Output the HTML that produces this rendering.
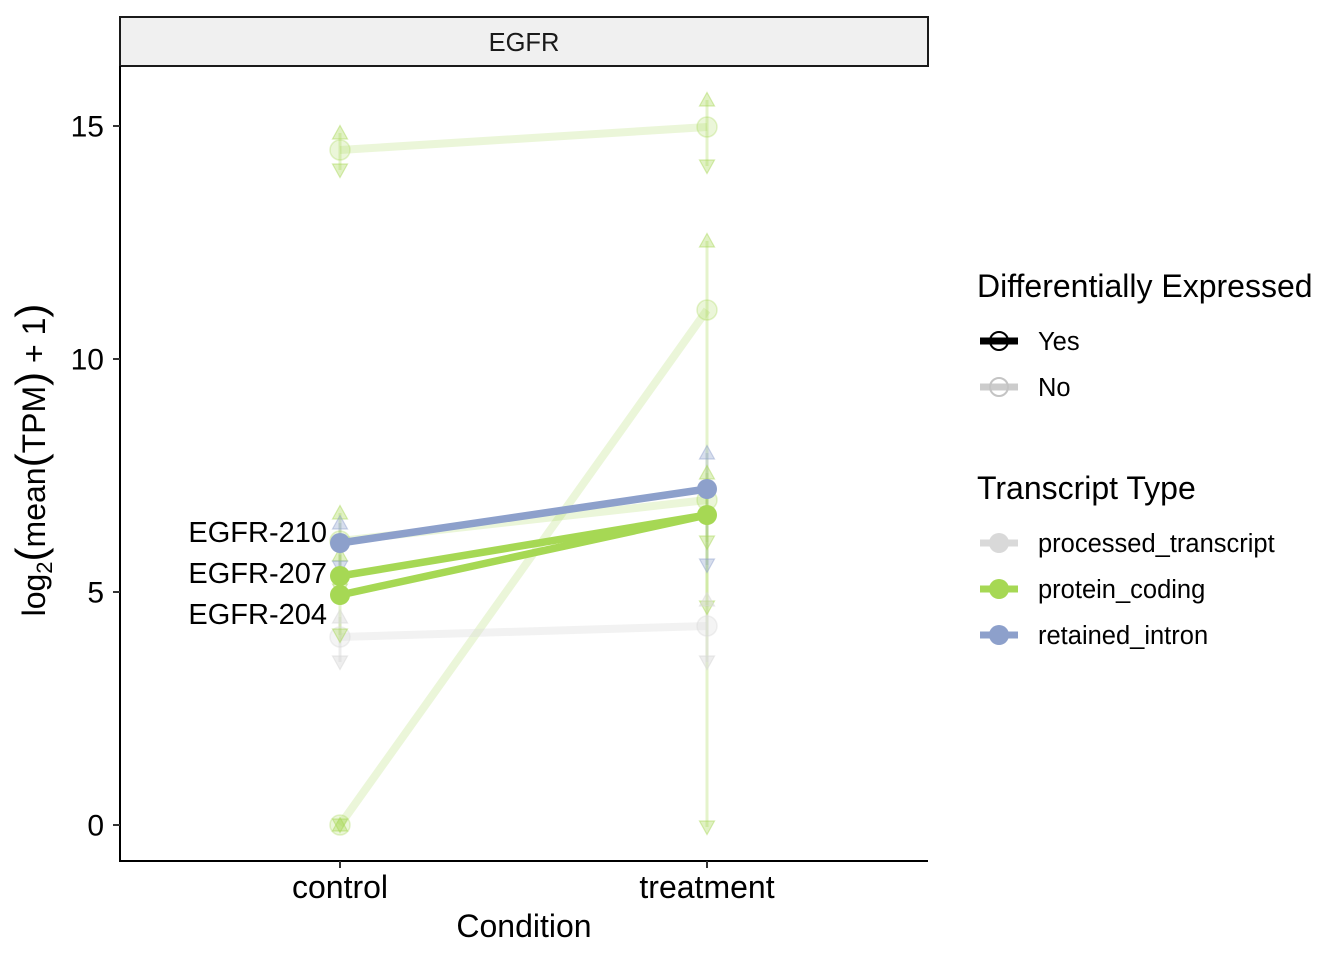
<!DOCTYPE html>
<html>
<head>
<meta charset="utf-8">
<style>
  html, body { margin: 0; padding: 0; background: #ffffff; }
  svg { display: block; font-family: "Liberation Sans", Arial, sans-serif; }
</style>
</head>
<body>
<svg width="1344" height="960" viewBox="0 0 1344 960" xmlns="http://www.w3.org/2000/svg">
  <rect x="0" y="0" width="1344" height="960" fill="#ffffff"/>

  <!-- Strip -->
  <rect x="120" y="17" width="808" height="49" fill="#F0F0F0" stroke="#1a1a1a" stroke-width="2"/>
  <text x="524" y="51" font-size="25.5" text-anchor="middle" fill="#1a1a1a">EGFR</text>

  <!-- ===== Non-DE (faint) series ===== -->
  <g stroke-linecap="butt">
    <g stroke-width="3">
      <line x1="340" y1="133" x2="340" y2="170" stroke="#A6D854" stroke-opacity="0.3"/>
      <line x1="707" y1="100" x2="707" y2="166" stroke="#A6D854" stroke-opacity="0.3"/>
      <line x1="707" y1="241" x2="707" y2="827" stroke="#A6D854" stroke-opacity="0.3"/>
      <line x1="340" y1="513" x2="340" y2="590" stroke="#A6D854" stroke-opacity="0.3"/>
      <line x1="707" y1="473" x2="707" y2="542" stroke="#A6D854" stroke-opacity="0.3"/>
      <line x1="340" y1="617" x2="340" y2="662" stroke="#D9D9D9" stroke-opacity="0.5"/>
      <line x1="707" y1="600" x2="707" y2="662" stroke="#D9D9D9" stroke-opacity="0.5"/>
      <line x1="340" y1="523" x2="340" y2="567" stroke="#8DA0CB" stroke-opacity="0.3"/>
      <line x1="707" y1="453" x2="707" y2="565" stroke="#8DA0CB" stroke-opacity="0.3"/>
      <line x1="340" y1="555" x2="340" y2="635" stroke="#A6D854" stroke-opacity="0.3"/>
      <line x1="707" y1="487" x2="707" y2="607" stroke="#A6D854" stroke-opacity="0.3"/>
    </g>

    <line x1="340" y1="150" x2="707" y2="127" stroke="#A6D854" stroke-opacity="0.22" stroke-width="8"/>
    <line x1="340" y1="825" x2="707" y2="310" stroke="#A6D854" stroke-opacity="0.22" stroke-width="8"/>
    <line x1="340" y1="541" x2="707" y2="500" stroke="#A6D854" stroke-opacity="0.22" stroke-width="8"/>
    <line x1="340" y1="637" x2="707" y2="626" stroke="#D9D9D9" stroke-opacity="0.35" stroke-width="8"/>

    <g stroke-width="1.5">
      <circle cx="340" cy="150" r="10" fill="#A6D854" fill-opacity="0.22" stroke="#A6D854" stroke-opacity="0.3"/>
      <circle cx="707" cy="127" r="10" fill="#A6D854" fill-opacity="0.22" stroke="#A6D854" stroke-opacity="0.3"/>
      <circle cx="340" cy="825" r="10" fill="#A6D854" fill-opacity="0.22" stroke="#A6D854" stroke-opacity="0.3"/>
      <circle cx="707" cy="310" r="10" fill="#A6D854" fill-opacity="0.22" stroke="#A6D854" stroke-opacity="0.3"/>
      <circle cx="340" cy="541" r="10" fill="#A6D854" fill-opacity="0.22" stroke="#A6D854" stroke-opacity="0.3"/>
      <circle cx="707" cy="500" r="10" fill="#A6D854" fill-opacity="0.22" stroke="#A6D854" stroke-opacity="0.3"/>
      <circle cx="340" cy="637" r="10" fill="#D9D9D9" fill-opacity="0.3" stroke="#D9D9D9" stroke-opacity="0.4"/>
      <circle cx="707" cy="626" r="10" fill="#D9D9D9" fill-opacity="0.3" stroke="#D9D9D9" stroke-opacity="0.4"/>
    </g>

    <g stroke-width="1.2">
      <g fill="#A6D854" fill-opacity="0.35" stroke="#A6D854" stroke-opacity="0.45">
        <polygon points="340,125.5 332.5,139 347.5,139"/>
        <polygon points="707,92.5 699.5,106 714.5,106"/>
        <polygon points="707,233.5 699.5,247 714.5,247"/>
        <polygon points="340,817.5 332.5,831 347.5,831"/>
        <polygon points="340,505.5 332.5,519 347.5,519"/>
        <polygon points="707,465.5 699.5,479 714.5,479"/>
        <polygon points="340,547.5 332.5,561 347.5,561"/>
        <polygon points="707,479.5 699.5,493 714.5,493"/>
        <polygon points="332.5,164 347.5,164 340,177.5"/>
        <polygon points="699.5,160 714.5,160 707,173.5"/>
        <polygon points="699.5,821 714.5,821 707,834.5"/>
        <polygon points="332.5,819 347.5,819 340,832.5"/>
        <polygon points="332.5,584 347.5,584 340,597.5"/>
        <polygon points="699.5,536 714.5,536 707,549.5"/>
        <polygon points="332.5,629 347.5,629 340,642.5"/>
        <polygon points="699.5,601 714.5,601 707,614.5"/>
      </g>
      <g fill="#8DA0CB" fill-opacity="0.35" stroke="#8DA0CB" stroke-opacity="0.45">
        <polygon points="340,515.5 332.5,529 347.5,529"/>
        <polygon points="707,445.5 699.5,459 714.5,459"/>
        <polygon points="332.5,561 347.5,561 340,574.5"/>
        <polygon points="699.5,559 714.5,559 707,572.5"/>
      </g>
      <g fill="#D9D9D9" fill-opacity="0.45" stroke="#D9D9D9" stroke-opacity="0.55">
        <polygon points="340,609.5 332.5,623 347.5,623"/>
        <polygon points="707,592.5 699.5,606 714.5,606"/>
        <polygon points="332.5,656 347.5,656 340,669.5"/>
        <polygon points="699.5,656 714.5,656 707,669.5"/>
      </g>
    </g>
  </g>

  <!-- ===== DE (solid) series ===== -->
  <line x1="340" y1="595" x2="707" y2="515" stroke="#A6D854" stroke-width="7.5"/>
  <line x1="340" y1="576" x2="707" y2="515" stroke="#A6D854" stroke-width="7.5"/>
  <line x1="340" y1="543" x2="707" y2="489" stroke="#8DA0CB" stroke-width="7.5"/>
  <circle cx="340" cy="595" r="10" fill="#A6D854"/>
  <circle cx="340" cy="576" r="10" fill="#A6D854"/>
  <circle cx="707" cy="515" r="10" fill="#A6D854"/>
  <circle cx="340" cy="543" r="10" fill="#8DA0CB"/>
  <circle cx="707" cy="489" r="10" fill="#8DA0CB"/>

  <g font-size="29" fill="#000000" text-anchor="end">
    <text x="327" y="542">EGFR-210</text>
    <text x="327" y="583">EGFR-207</text>
    <text x="327" y="624">EGFR-204</text>
  </g>

  <!-- Axes -->
  <line x1="120" y1="66" x2="120" y2="862" stroke="#000000" stroke-width="2"/>
  <line x1="119" y1="861" x2="928" y2="861" stroke="#000000" stroke-width="2"/>
  <g stroke="#333333" stroke-width="2">
    <line x1="113" y1="126" x2="120" y2="126"/>
    <line x1="113" y1="359" x2="120" y2="359"/>
    <line x1="113" y1="592" x2="120" y2="592"/>
    <line x1="113" y1="825" x2="120" y2="825"/>
    <line x1="340" y1="861" x2="340" y2="868"/>
    <line x1="707" y1="861" x2="707" y2="868"/>
  </g>
  <g font-size="30" fill="#000000" text-anchor="end">
    <text x="104" y="136.5">15</text>
    <text x="104" y="369.5">10</text>
    <text x="104" y="602.5">5</text>
    <text x="104" y="835.5">0</text>
  </g>
  <g font-size="32" fill="#000000" text-anchor="middle">
    <text x="340" y="898">control</text>
    <text x="707" y="898">treatment</text>
    <text x="524" y="937">Condition</text>
  </g>

  <text transform="translate(45,460) rotate(-90)" font-size="32" text-anchor="middle" fill="#000000">log<tspan font-size="22" dy="7">2</tspan><tspan font-size="42" dy="-7">(</tspan>mean<tspan font-size="42">(</tspan>TPM<tspan font-size="42">)</tspan> + 1<tspan font-size="42">)</tspan></text>

  <!-- Legend: Differentially Expressed -->
  <text x="977" y="297" font-size="32" fill="#000000">Differentially Expressed</text>
  <line x1="980" y1="341" x2="1018" y2="341" stroke="#000000" stroke-width="7"/>
  <circle cx="999" cy="341" r="9" fill="none" stroke="#000000" stroke-width="2"/>
  <text x="1038" y="350" font-size="25.5" fill="#000000">Yes</text>
  <line x1="980" y1="387" x2="1018" y2="387" stroke="#CCCCCC" stroke-width="7"/>
  <circle cx="999" cy="387" r="9" fill="none" stroke="#C4C4C4" stroke-width="2"/>
  <text x="1038" y="396" font-size="25.5" fill="#000000">No</text>

  <!-- Legend: Transcript Type -->
  <text x="977" y="499" font-size="32" fill="#000000">Transcript Type</text>
  <line x1="980" y1="543" x2="1018" y2="543" stroke="#D9D9D9" stroke-width="7"/>
  <circle cx="999" cy="543" r="10" fill="#D9D9D9"/>
  <text x="1038" y="552" font-size="25.5" fill="#000000">processed_transcript</text>
  <line x1="980" y1="589" x2="1018" y2="589" stroke="#A6D854" stroke-width="7"/>
  <circle cx="999" cy="589" r="10" fill="#A6D854"/>
  <text x="1038" y="598" font-size="25.5" fill="#000000">protein_coding</text>
  <line x1="980" y1="635" x2="1018" y2="635" stroke="#8DA0CB" stroke-width="7"/>
  <circle cx="999" cy="635" r="10" fill="#8DA0CB"/>
  <text x="1038" y="644" font-size="25.5" fill="#000000">retained_intron</text>
</svg>
</body>
</html>
